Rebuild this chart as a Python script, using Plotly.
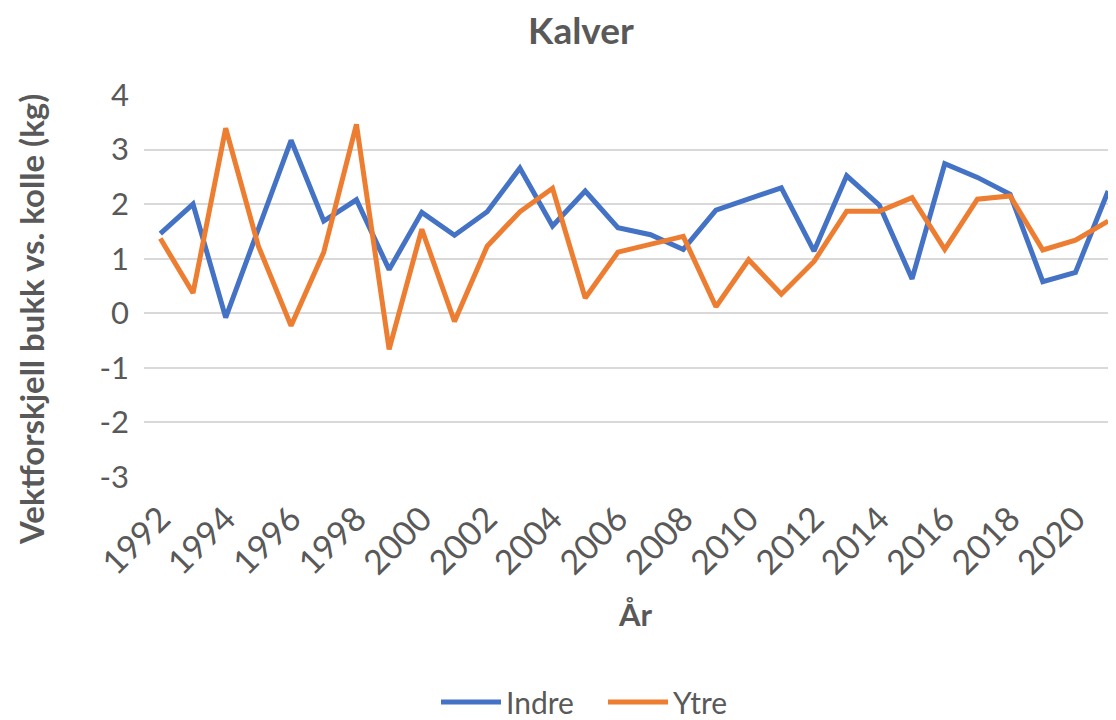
import plotly.graph_objects as go

years = list(range(1992, 2022))
indre = [1.46, 2.00, -0.08, 1.55, 3.17, 1.69, 2.08, 0.80, 1.85, 1.43,
         1.86, 2.66, 1.60, 2.24, 1.57, 1.44, 1.17, 1.89, 2.09, 2.30,
         1.14, 2.52, 1.98, 0.63, 2.74, 2.49, 2.18, 0.58, 0.75, 2.24]
ytre = [1.37, 0.37, 3.39, 1.23, -0.23, 1.12, 3.46, -0.66, 1.54, -0.15,
        1.23, 1.86, 2.29, 0.28, 1.12, 1.26, 1.41, 0.12, 0.98, 0.35,
        0.95, 1.87, 1.87, 2.12, 1.17, 2.09, 2.15, 1.16, 1.34, 1.69]
tick_years = list(range(1992, 2021, 2))
y_ticks = list(range(-3, 5))

TXT = "#595959"
FONT = "Lato"

# The page body has an 8px margin; figure is sized to fit the 1116x720 window.
W, H = 1108, 712
OFF = 8
PLOT_L, PLOT_T, PLOT_B = 144 - OFF, 95 - OFF, 477 - OFF
PH = PLOT_B - PLOT_T
PW = W - PLOT_L

fig = go.Figure()
fig.add_trace(go.Scatter(x=years, y=indre, mode="lines", name="Indre",
                         line=dict(color="#4472C4", width=5)))
fig.add_trace(go.Scatter(x=years, y=ytre, mode="lines", name="Ytre",
                         line=dict(color="#ED7D31", width=5)))

def px(xpage):
    return (xpage - OFF - PLOT_L) / PW

def py(ypage):
    return (PLOT_B - (ypage - OFF)) / PH

fig.update_layout(
    width=W, height=H,
    margin=dict(l=PLOT_L, r=0, t=PLOT_T, b=H - PLOT_B, autoexpand=False),
    paper_bgcolor="white", plot_bgcolor="white",
    font=dict(family=FONT, color=TXT),
    title=dict(text="<b>Kalver</b>", x=(581 - OFF) / W, xanchor="center",
               y=1 - (31 - OFF) / H, yanchor="middle",
               font=dict(size=37, color=TXT, family=FONT)),
    showlegend=True,
    legend=dict(orientation="h", x=px(436), xanchor="left",
                y=py(702), yanchor="middle",
                font=dict(size=30, color=TXT, family=FONT),
                itemwidth=60, entrywidth=92, entrywidthmode="pixels",
                tracegroupgap=0),
    xaxis=dict(range=[1991.5, 2021.24], tickmode="array",
               tickvals=tick_years, ticktext=[str(y) for y in tick_years],
               tickangle=-45, tickfont=dict(size=34, color=TXT, family=FONT),
               showgrid=False, zeroline=False, showline=False, ticks="",
               ticklabelstandoff=14, automargin=False),
    yaxis=dict(range=[-3, 4], tickmode="array", tickvals=y_ticks,
               ticktext=[str(v) for v in y_ticks],
               tickfont=dict(size=31, color=TXT, family=FONT),
               gridcolor="#D9D9D9", gridwidth=1.5, zeroline=False,
               showline=False, ticks="", ticklabelstandoff=14,
               automargin=False),
    annotations=[
        dict(text="<b>Vektforskjell bukk vs. kolle (kg)</b>", textangle=-90,
             xref="paper", yref="paper", x=px(31), y=py(320),
             xanchor="center", yanchor="middle", showarrow=False,
             font=dict(size=33, color=TXT, family=FONT)),
        dict(text="<b>År</b>", xref="paper", yref="paper",
             x=px(635), y=py(614),
             xanchor="center", yanchor="middle", showarrow=False,
             font=dict(size=31, color=TXT, family=FONT)),
    ],
)

fig.write_html("out.html")
